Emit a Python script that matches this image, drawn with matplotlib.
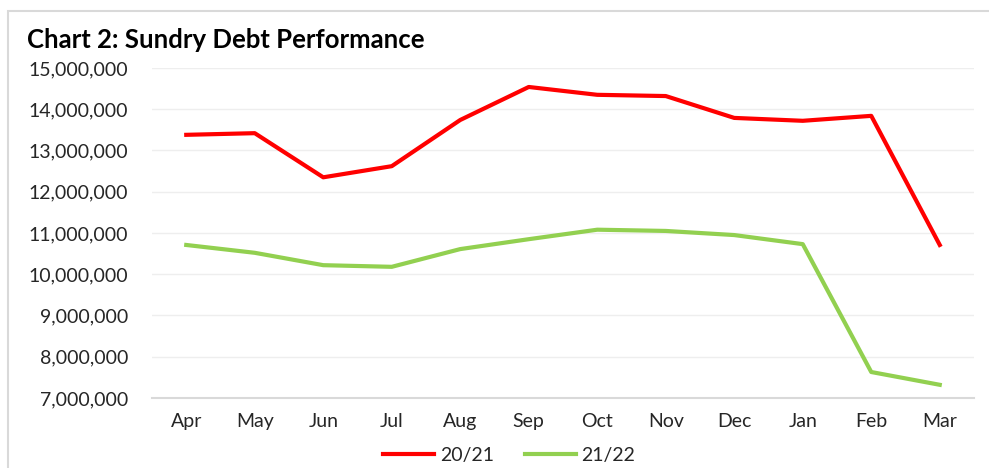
import numpy as np
import matplotlib.pyplot as plt
from matplotlib.ticker import FuncFormatter
from matplotlib.patches import Rectangle

months = ['Apr', 'May', 'Jun', 'Jul', 'Aug', 'Sep', 'Oct', 'Nov', 'Dec', 'Jan', 'Feb', 'Mar']
debt_2021 = [13380000, 13420000, 12350000, 12620000, 13740000, 14540000,
             14350000, 14320000, 13790000, 13720000, 13840000, 10710000]
debt_2122 = [10710000, 10520000, 10220000, 10180000, 10610000, 10850000,
             11080000, 11050000, 10950000, 10730000, 7630000, 7320000]

plt.rcParams['font.family'] = ['Lato', 'DejaVu Sans']

fig = plt.figure(figsize=(9.89, 4.68), dpi=100)
# chart border
fig.patches.append(Rectangle((8 / 989, -0.01), 1.0, 1 - 11 / 468 + 0.01,
                             transform=fig.transFigure, fill=False,
                             edgecolor='#d9d9d9', linewidth=1.5))
ax = fig.add_axes([152 / 989, 1 - 398 / 468, (974 - 152) / 989, (398 - 68) / 468])

x = np.arange(len(months))
ax.plot(x, debt_2021, color='#ff0000', linewidth=3, label='20/21', solid_joinstyle='round')
ax.plot(x, debt_2122, color='#92d050', linewidth=3, label='21/22', solid_joinstyle='round')

ax.set_xlim(-0.5, len(months) - 0.5)
ax.set_ylim(7000000, 15000000)
ax.set_yticks(np.arange(7000000, 15000001, 1000000))
ax.yaxis.set_major_formatter(FuncFormatter(lambda v, p: f'{int(v):,}'))
ax.set_xticks(x)
ax.set_xticklabels(months)
ax.tick_params(axis='both', length=0, labelsize=14, colors='#262626')
ax.tick_params(axis='x', pad=11)
ax.tick_params(axis='y', pad=17)

ax.grid(axis='y', color='#eeeeee', linewidth=1)
ax.set_axisbelow(True)
for s in ['top', 'right', 'left']:
    ax.spines[s].set_visible(False)
ax.spines['bottom'].set_color('#d9d9d9')
ax.spines['bottom'].set_linewidth(1.5)

fig.text(27 / 989, 1 - 40 / 468, 'Chart 2: Sundry Debt Performance', fontsize=18.5,
         fontweight='bold', color='black', va='center', ha='left')

fig.legend(loc='center', bbox_to_anchor=(0.515, 1 - 455 / 468), ncol=2, frameon=False,
           fontsize=14, handlelength=2.6, handletextpad=0.3, columnspacing=1.6,
           labelcolor='#262626')

fig.savefig('out.png', dpi=100)
